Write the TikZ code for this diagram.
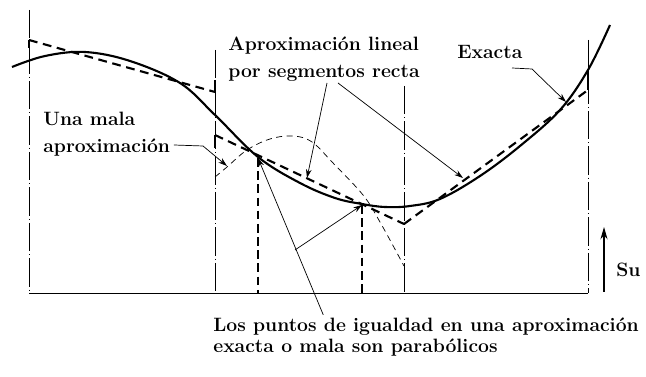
\documentclass[tikz,border=0pt]{standalone}
\usepackage{tikz}
\usetikzlibrary{positioning,calc,arrows.meta}

\begin{document}
\begin{tikzpicture}[x=0.02cm,y=-0.02cm]

% ---- Styles ----
\tikzset{
  exact/.style={very thick, line join=round},
  segline/.style={very thick, dash pattern=on 5pt off 3.2pt},
  segtick/.style={thick},
  malacurve/.style={thin, dash pattern=on 3.5pt off 2.5pt},
  bound/.style={thin, dash pattern=on 16pt off 1.8pt on 0.6pt off 1.8pt},
  equalline/.style={semithick, dash pattern=on 5pt off 2.5pt},
  leader/.style={thin, -{Stealth[length=5pt,width=3.2pt]}},
  lbl/.style={font=\fontsize{11}{15.5}\selectfont\bfseries, align=left, inner sep=0pt},
}

\useasboundingbox (0,0) rectangle (646,377);

% --- Frame: base line and segment boundaries ---
\draw[thin] (29,293) -- (588,293);
\draw[bound] (29,10)  -- (29,293);
\draw[bound] (215,50) -- (215,293);
\draw[bound] (404,86) -- (404,293);
\draw[bound] (588,40) -- (588,293);

% --- Exact curve ---
\draw[exact] plot[smooth, tension=0.6] coordinates {
  (12,67) (45,56) (85,52) (130,61) (180,83) (215,115) (258,157)
  (300,183) (335,198) (362,204) (385,207) (410,206) (440,199)
  (480,176) (520,146) (560,110) (588,70) (610,25)};

% --- Straight-line segments ---
\draw[segline] (29,40) -- (215,92);
\draw[segline] (215,135) -- (404,224);
\draw[segline] (404,224) -- (588,90);
\draw[segtick] (29,40) -- (29,48);
\draw[segtick] (215,80) -- (215,92);
\draw[segtick] (215,135) -- (215,148);
\draw[segtick] (588,72) -- (588,90);

% --- Bad (parabolic) approximation ---
\draw[malacurve] plot[smooth, tension=0.6] coordinates {
  (215,177) (227,167) (247,150) (270,139) (293,136) (312,142)
  (333,163) (363,195) (380,222) (404,266)};

% --- Points of equality ---
\coordinate (eqA) at (258,158);
\coordinate (eqB) at (362,205);
\draw[equalline] (eqA) -- (258,293);
\draw[equalline] (eqB) -- (362,293);

% --- Labels (base = baseline of the last line) ---
\node[lbl, anchor=base west] (mala) at (43,153) {Una mala\\aproximaci\'on};
\node[lbl, anchor=base west] (lineal) at (228,78) {Aproximaci\'on lineal\\por segmentos recta};
\node[lbl, anchor=base west] (exacta) at (457,59) {Exacta};
\node[lbl, anchor=base west, font=\fontsize{11}{12.3}\selectfont\bfseries] (iguales) at (213,353)
  {Los puntos de igualdad en una aproximaci\'on\\exacta o mala son parab\'olicos};
\node[lbl, anchor=base west] (su) at (616,277) {Su};

% --- Leaders ---
\coordinate (malaTip) at (227,166);
\coordinate (segTipA) at (307,178);
\coordinate (segTipB) at (463,178);
\coordinate (exTip) at (566,102);
\coordinate (branch) at (295,250);
\draw[leader] ([xshift=2pt]mala.east |- 0,145) -- (203,146) -- (malaTip);
\draw[leader] (327,83) -- (segTipA);
\draw[leader] (338,83) -- (segTipB);
\draw[leader] (512,68) -- (532,69) -- (exTip);
\draw[leader] ([xshift=-1pt,yshift=1.5pt]iguales.north west -| 325,0) -- (eqA);
\draw[leader] (branch) -- (eqB);
\draw[-{Stealth[length=7pt,width=4pt]}, semithick] (604,292) -- (604,227);

\end{tikzpicture}
\end{document}
